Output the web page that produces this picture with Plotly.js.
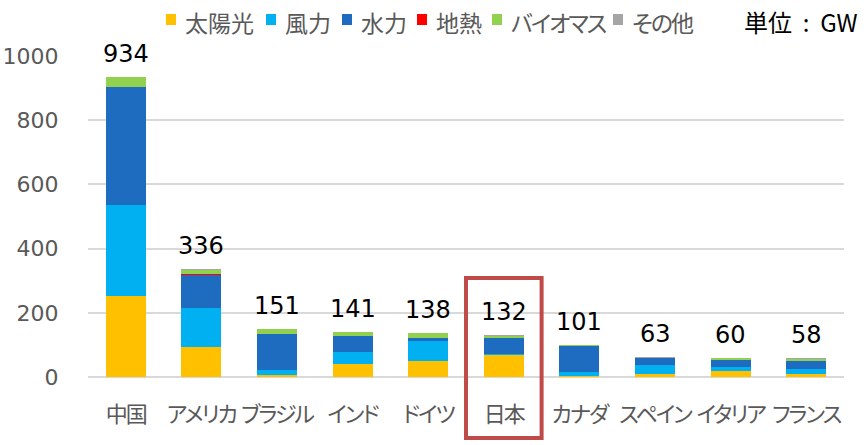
<!DOCTYPE html>
<html>
<head>
<meta charset="utf-8">
<script src="https://cdn.plot.ly/plotly-3.0.1.min.js"></script>
<style>
html,body{margin:0;padding:0;background:#fff;}
#chart{width:866px;height:445px;}
svg text{font-feature-settings:"palt" 1;}
.xtick text{letter-spacing:-2px;}
</style>
</head>
<body>
<div id="chart"></div>
<script>
const countries = ["中国","アメリカ","ブラジル","インド","ドイツ","日本","カナダ","スペイン","イタリア","フランス"];
const solar = [253, 93, 5, 40, 51, 67, 2, 9, 20, 9];
const wind  = [282, 122, 17, 37, 62, 4, 13, 28, 10, 16];
const hydro = [367, 102, 111, 52, 10, 51, 82, 22, 23, 26];
const geo   = [0, 3, 0, 0, 0, 1, 0, 0, 1, 0];
const bio   = [32, 13, 17, 10, 13, 6, 2, 1, 4, 4];
const other = [0, 3, 1, 2, 2, 3, 2, 3, 2, 3];
const totals = [934, 336, 151, 141, 138, 132, 101, 63, 60, 58];
const seriesNames = ["太陽光","風力","水力","地熱","バイオマス","その他"];
const seriesColors = ["#FFC000","#00B0F0","#1E6CC0","#FF0000","#92D050","#A5A5A5"];
const yTicks = [0, 200, 400, 600, 800, 1000];
const highlighted = "日本";
const unitLabel = "単位&nbsp;&nbsp;:&nbsp;&nbsp;GW";

// layout geometry (pixels)
const W = 866, H = 445;
const M = {l: 88, r: 22, t: 56, b: 68};
const plotW = W - M.l - M.r, plotH = H - M.t - M.b;
const px2x = p => (p - M.l) / plotW;
const py2y = p => (H - M.b - p) / plotH;
const legendLeft = [166, 266, 342, 417, 492, 613];
const hasKana = s => /[\u3040-\u30ff]/.test(s);

const seriesData = [solar, wind, hydro, geo, bio, other];
const traces = seriesData.map((vals, i) => ({
  type: "bar",
  x: countries,
  y: vals,
  name: seriesNames[i],
  marker: {color: seriesColors[i], line: {width: 0}},
  showlegend: false
}));

const annotations = countries.map((c, i) => ({
  x: c, y: totals[i], xref: "x", yref: "y",
  text: String(totals[i]), showarrow: false,
  yanchor: "middle", yshift: 23,
  font: {family: "DejaVu Sans, Verdana, sans-serif", size: 24, color: "#000"}
}));
const shapes = [];
seriesNames.forEach((n, i) => {
  shapes.push({
    type: "rect", xref: "paper", yref: "paper",
    x0: px2x(legendLeft[i]), x1: px2x(legendLeft[i] + 10),
    y0: py2y(25), y1: py2y(14),
    fillcolor: seriesColors[i], line: {width: 0}
  });
  annotations.push({
    xref: "paper", yref: "paper", x: px2x(legendLeft[i] + 18), y: py2y(22),
    xanchor: "left", yanchor: "middle", align: "left", borderpad: 0,
    showarrow: false,
    text: hasKana(n) ? '<span style="letter-spacing:-2px">' + n + '</span>' : n,
    font: {family: "Noto Sans CJK JP, sans-serif", size: 23, color: "#595959"}
  });
});
annotations.push({
  xref: "paper", yref: "paper", x: px2x(859), y: py2y(22), xanchor: "right", yanchor: "middle",
  align: "right", borderpad: 0,
  text: unitLabel, showarrow: false,
  font: {family: "Noto Sans CJK JP, sans-serif", size: 24, color: "#000"}
});
const hi = countries.indexOf(highlighted);
shapes.push({
  type: "rect", xref: "x", yref: "paper",
  x0: hi - 0.5, x1: hi + 0.5, y0: py2y(438), y1: py2y(278),
  line: {color: "#BE4B48", width: 4}, fillcolor: "rgba(0,0,0,0)"
});

const layout = {
  width: W, height: H,
  margin: {l: M.l, r: M.r, t: M.t, b: M.b, autoexpand: false},
  paper_bgcolor: "#fff", plot_bgcolor: "#fff",
  barmode: "stack",
  bargap: 0.47,
  showlegend: false,
  xaxis: {
    type: "category", showgrid: false, zeroline: false, showline: false,
    tickangle: 0, automargin: false,
    ticks: "outside", ticklen: 18, tickcolor: "rgba(0,0,0,0)",
    tickfont: {family: "Noto Sans CJK JP, sans-serif", size: 22, color: "#595959"},
    fixedrange: true
  },
  yaxis: {
    range: [0, 1000], tickvals: yTicks, ticktext: yTicks.map(String), automargin: false,
    showgrid: true, gridcolor: "#D9D9D9", gridwidth: 2,
    zeroline: true, zerolinecolor: "#D9D9D9", zerolinewidth: 2,
    showline: false,
    ticks: "outside", ticklen: 24, tickcolor: "rgba(0,0,0,0)",
    tickfont: {family: "DejaVu Sans, Verdana, sans-serif", size: 22, color: "#595959"},
    fixedrange: true
  },
  annotations: annotations,
  shapes: shapes
};

Plotly.newPlot("chart", traces, layout, {displayModeBar: false, staticPlot: true});
</script>
</body>
</html>
